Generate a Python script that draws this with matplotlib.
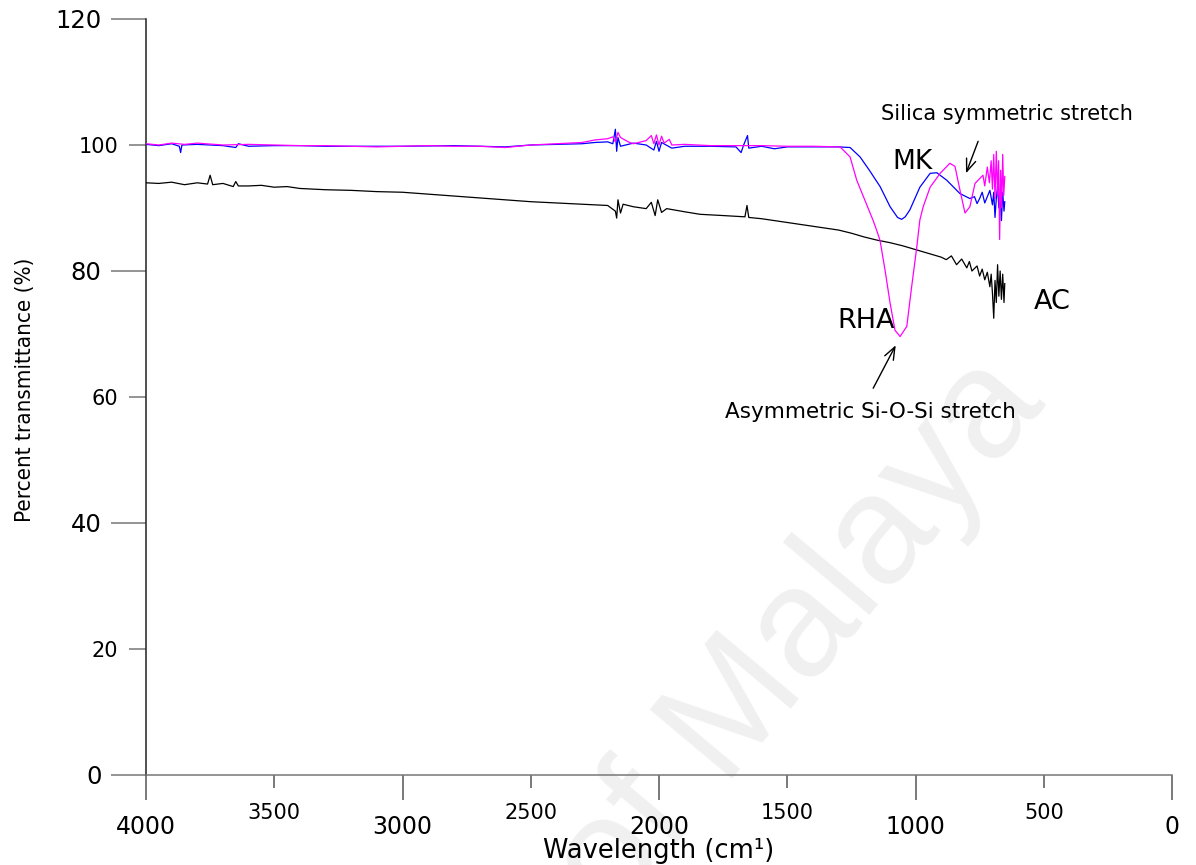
import matplotlib
matplotlib.use("Agg")
import matplotlib.pyplot as plt
from matplotlib import font_manager
from matplotlib.font_manager import FontProperties
from matplotlib.ticker import FixedLocator, FixedFormatter

# ---------------- data ----------------
ac_wn = [4000, 3950, 3900, 3850, 3800, 3760, 3750, 3740, 3700, 3660, 3650, 3640, 3600,
         3550, 3500, 3450, 3400, 3300, 3200, 3100, 3000, 2900, 2800, 2700, 2600, 2500,
         2400, 2300, 2200, 2170, 2165, 2160, 2150, 2140, 2100, 2050, 2030, 2015, 2005,
         1990, 1970, 1900, 1840, 1750, 1665, 1657, 1650, 1600, 1500, 1400, 1300, 1250,
         1200, 1150, 1100, 1050, 1000, 950, 900, 880, 860, 840, 820, 800, 790, 780, 760,
         750, 740, 730, 720, 710, 705, 700, 695, 690, 685, 680, 675, 670, 665, 660, 655, 652]
ac_t = [94.0, 93.9, 94.1, 93.7, 94.0, 93.8, 95.2, 93.7, 93.9, 93.4, 94.2, 93.5, 93.5,
        93.6, 93.3, 93.4, 93.1, 92.9, 92.8, 92.6, 92.5, 92.2, 91.9, 91.6, 91.3, 91.0,
        90.8, 90.6, 90.4, 89.5, 88.4, 91.3, 89.2, 90.6, 90.2, 89.9, 90.9, 88.8, 91.3,
        89.3, 89.9, 89.4, 89.0, 88.8, 88.6, 90.4, 88.5, 88.3, 87.7, 87.1, 86.5, 86.0,
        85.4, 84.9, 84.5, 84.0, 83.4, 82.8, 82.2, 81.8, 82.4, 81.0, 81.9, 80.5, 81.5,
        80.0, 80.8, 79.2, 80.3, 78.6, 79.8, 77.5, 79.5, 76.5, 72.5, 78.5, 75.0, 81.0,
        76.0, 80.0, 75.5, 79.5, 75.0, 78.0]

mk_wn = [4000, 3950, 3900, 3870, 3865, 3860, 3800, 3700, 3650, 3640, 3600, 3500, 3400,
         3300, 3200, 3000, 2800, 2600, 2500, 2400, 2300, 2250, 2200, 2180, 2170, 2165,
         2160, 2150, 2100, 2050, 2020, 2010, 2000, 1990, 1950, 1900, 1800, 1700, 1680,
         1670, 1655, 1650, 1600, 1550, 1500, 1400, 1300, 1255, 1216, 1180, 1138, 1099,
         1070, 1054, 1040, 1022, 983, 943, 917, 878, 827, 788, 770, 760, 750, 740, 730,
         720, 710, 700, 695, 690, 685, 680, 675, 670, 665, 660, 655, 652]
mk_t = [100.1, 99.9, 100.2, 99.8, 98.8, 100.0, 100.1, 99.9, 99.6, 100.2, 99.8, 99.9, 99.9,
        99.8, 99.8, 99.8, 99.9, 99.7, 100.0, 100.1, 100.2, 100.4, 100.5, 100.2, 102.5, 99.0,
        101.2, 99.8, 100.3, 100.0, 99.2, 100.6, 99.0, 100.4, 99.5, 99.8, 99.8, 99.7, 98.8,
        100.0, 101.5, 99.5, 99.8, 99.4, 99.7, 99.7, 99.7, 99.6, 98.1, 96.0, 93.4, 90.2,
        88.5, 88.2, 88.6, 89.7, 93.3, 95.5, 95.6, 94.4, 92.3, 91.5, 91.8, 90.7, 91.5, 92.5, 90.8,
        91.8, 92.8, 90.5, 92.5, 88.5, 91.5, 93.5, 90.0, 91.8, 88.0, 92.5, 89.5, 91.0]

rha_wn = [4000, 3950, 3900, 3850, 3800, 3700, 3600, 3500, 3400, 3300, 3200, 3100, 3000,
          2900, 2800, 2700, 2600, 2500, 2400, 2300, 2250, 2200, 2180, 2170, 2160, 2150,
          2120, 2100, 2050, 2030, 2020, 2010, 2000, 1990, 1980, 1960, 1950, 1900, 1800,
          1700, 1600, 1500, 1400, 1300, 1294, 1255, 1229, 1190, 1165, 1150, 1138, 1119,
          1099, 1080, 1060, 1034, 1015, 995, 983, 970, 943, 904, 866, 846, 827, 807, 788,
          768, 737, 730, 720, 712, 705, 700, 695, 690, 685, 680, 676, 672, 668, 664, 660,
          656, 652]
rha_t = [100.2, 100.0, 100.3, 100.1, 100.3, 100.0, 100.1, 100.0, 99.9, 99.9, 99.8, 99.7, 99.8,
         99.9, 99.8, 99.8, 99.6, 100.0, 100.2, 100.4, 100.8, 101.0, 101.3, 100.5, 102.0, 101.2,
         100.5, 100.2, 100.7, 101.5, 100.2, 101.6, 100.0, 101.4, 100.3, 100.9, 100.0, 100.1, 99.9,
         99.9, 99.9, 99.8, 99.8, 99.7, 99.7, 98.1, 94.4, 90.5, 88.0, 86.3, 84.8, 80.2,
         74.9, 70.6, 69.6, 71.2, 77.5, 83.8, 88.1, 90.2, 93.3, 95.5, 97.1, 96.6, 92.9, 89.2, 90.2,
         93.9, 95.2, 93.5, 96.5, 94.0, 97.5, 93.0, 98.5, 91.5, 99.0, 92.0, 97.5, 85.0, 96.0, 90.0,
         98.5, 92.0, 95.0]

x_major = [4000, 3000, 2000, 1000, 0]
x_minor = [3500, 2500, 1500, 500]
y_major = [0, 40, 80, 120]
y_minor = [20, 60, 100]

# ---------------- fonts ----------------
plt.rcParams["font.family"] = ["DejaVu Sans"]

narrow_file = None
for key in ("LiberationSansNarrow-Regular", "DejaVuSansCondensed.ttf", "Narrow", "Condensed"):
    for f in font_manager.fontManager.ttflist:
        if key in f.fname and "Bold" not in f.fname and "Italic" not in f.fname and "Oblique" not in f.fname:
            narrow_file = f.fname
            break
    if narrow_file:
        break
if narrow_file:
    ylab_fp = FontProperties(fname=narrow_file, size=16)
else:
    ylab_fp = FontProperties(family="Liberation Sans", size=15.5)

fig = plt.figure(figsize=(11.96, 8.65), dpi=100)
fig.patch.set_facecolor("white")

# watermark (behind everything)
fig.text(0.668, 0.265, "of Malaya", rotation=50, fontsize=112, color="#f0f0f0",
         ha="center", va="center", zorder=-5, family="Liberation Sans")

ax = fig.add_axes([146 / 1196, 1 - 775 / 865, (1172 - 146) / 1196, (775 - 19) / 865])
ax.set_zorder(2)
ax.patch.set_alpha(0)

ax.plot(ac_wn, ac_t, color="black", lw=0.9, zorder=3)
ax.plot(mk_wn, mk_t, color="#0000ff", lw=0.9, zorder=4)
ax.plot(rha_wn, rha_t, color="#ff00ff", lw=0.9, zorder=5)

ax.set_xlim(4000, 0)
ax.set_ylim(0, 120)

for s in ("top", "right"):
    ax.spines[s].set_visible(False)
ax.spines["left"].set_color("#222222")
ax.spines["bottom"].set_color("#777777")
ax.spines["left"].set_linewidth(1.1)
ax.spines["bottom"].set_linewidth(1.1)

ax.xaxis.set_major_locator(FixedLocator(x_major))
ax.xaxis.set_major_formatter(FixedFormatter([str(v) for v in x_major]))
ax.xaxis.set_minor_locator(FixedLocator(x_minor))
ax.xaxis.set_minor_formatter(FixedFormatter([str(v) for v in x_minor]))
ax.yaxis.set_major_locator(FixedLocator(y_major))
ax.yaxis.set_major_formatter(FixedFormatter([str(v) for v in y_major]))
ax.yaxis.set_minor_locator(FixedLocator(y_minor))
ax.yaxis.set_minor_formatter(FixedFormatter([str(v) for v in y_minor]))

ax.tick_params(axis="x", which="major", length=18, width=1.1, color="#555555",
               labelsize=17, pad=11)
ax.tick_params(axis="x", which="minor", length=9.4, width=1.1, color="#555555",
               labelsize=15, pad=11)
ax.tick_params(axis="y", which="major", length=25, width=1.1, color="#777777",
               labelsize=17.5, pad=7)
ax.tick_params(axis="y", which="minor", length=12.2, width=1.1, color="#777777",
               labelsize=15, pad=8)

ax.set_xlabel("Wavelength (cm¹)", fontsize=18.5, labelpad=-1)
ax.set_ylabel("Percent transmittance (%)", fontproperties=ylab_fp)
ax.yaxis.set_label_coords(-0.108, 0.509)

# annotations
ax.text(1010, 97.3, "MK", fontsize=19, ha="center", va="center")
ax.text(1193, 72.1, "RHA", fontsize=19.5, ha="center", va="center")
ax.text(468, 75.1, "AC", fontsize=19.5, ha="center", va="center")
ax.text(643, 104.9, "Silica symmetric stretch", fontsize=15, ha="center", va="center")
ax.text(1177, 57.6, "Asymmetric Si-O-Si stretch", fontsize=15.5, ha="center", va="center")
ax.annotate("", xy=(807, 95.1), xytext=(752, 101.0),
            arrowprops=dict(arrowstyle="->,head_length=0.9,head_width=0.35", lw=1.0, color="black"))
ax.annotate("", xy=(1072, 68.6), xytext=(1170, 61.0),
            arrowprops=dict(arrowstyle="->,head_length=0.9,head_width=0.35", lw=1.0, color="black"))

fig.savefig("out.png", dpi=100)
